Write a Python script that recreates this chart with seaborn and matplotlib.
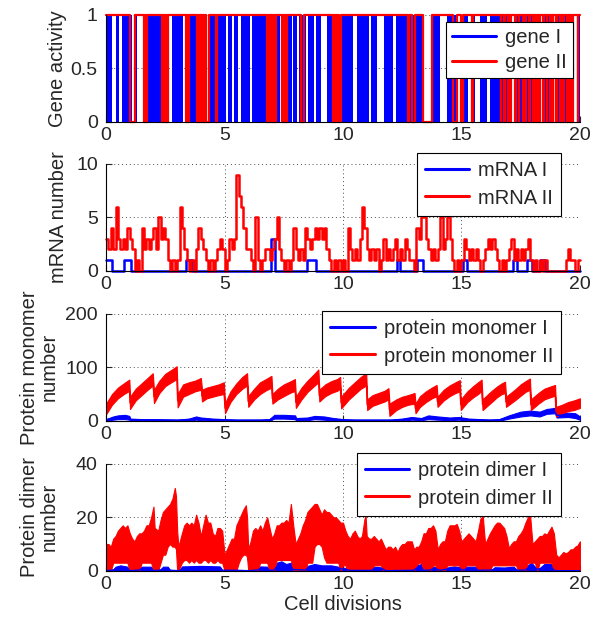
import numpy as np
import pandas as pd
import matplotlib
matplotlib.use("Agg")
import matplotlib.pyplot as plt
import seaborn as sns

sns.set_style("ticks")
plt.rcParams['font.family'] = ['Liberation Sans', 'DejaVu Sans']

# ---- gene activity: white gaps of gene I, switching times of gene II (starts on)
gene1_gaps = [(0.23, 0.41), (0.55, 0.66), (1.11, 1.21), (1.32, 1.56), (2.62, 2.77),
              (3.25, 3.36), (4.21, 4.35), (5.05, 5.13), (5.30, 5.42), (5.58, 5.70),
              (6.08, 6.16), (7.16, 7.22), (7.34, 7.40), (7.86, 7.90), (8.07, 8.14),
              (8.42, 8.52), (8.78, 8.88), (9.06, 9.34), (10.44, 10.58), (11.11, 11.17),
              (11.42, 11.73), (12.12, 12.24), (13.39, 13.74), (14.09, 14.37), (14.80, 14.94),
              (15.29, 15.43), (15.57, 15.78), (16.06, 16.20), (17.12, 17.26), (18.31, 18.45),
              (18.87, 19.00), (19.72, 19.90)]
gene2_switch = [1.03, 1.24,
                1.60, 1.64, 1.68, 1.72,
                2.38, 2.41, 2.45, 2.48, 2.52, 2.55, 2.58, 2.62,
                3.36, 3.40, 3.46, 3.50,
                3.85, 3.88, 3.92, 3.95, 3.99, 4.02, 4.06, 4.09, 4.13, 4.16, 4.21, 4.35,
                4.63, 4.70,
                6.81, 6.84, 6.88, 6.91, 6.95, 6.98, 7.02, 7.05, 7.09, 7.12, 7.14, 7.16,
                7.44, 7.47, 7.51, 7.54, 7.59, 7.65,
                8.21, 8.35,
                9.59, 9.62, 9.66, 9.70, 9.75, 9.79, 9.84, 9.93,
                12.76, 12.80, 12.90, 13.04, 13.39, 13.75,
                14.66, 14.80, 15.00, 15.08, 15.45, 15.50,
                16.66, 16.69, 16.80, 16.83, 16.95, 16.98, 17.05, 17.09,
                17.26, 17.30, 17.42, 17.45, 17.58, 17.61, 17.70, 17.73, 17.86, 17.90,
                18.02, 18.05, 18.16, 18.20, 18.26, 18.31,
                18.45, 18.49, 18.60, 18.63, 18.75, 18.79, 18.85, 18.87,
                19.00, 19.04, 19.16, 19.19, 19.30, 19.34, 19.46, 19.49, 19.60, 19.64,
                19.68, 19.72, 19.90, 19.94]

# ---- mRNA numbers
mrna1_t = [0, 0.27, 0.76, 1.04, 3.36, 3.64, 6.95, 7.12, 8.50, 8.85, 12.27, 12.40, 13.11, 13.39,
           15.08, 15.22, 17.19, 17.33, 17.75, 17.96, 18.31, 18.52, 20]
mrna1_v = [1, 0, 1, 0, 1, 0, 3, 0, 1, 0, 1, 0, 1, 0, 1, 0, 1, 0, 1, 0, 1, 0, 0]
mrna2_v = [3, 2, 4, 2, 6, 3, 2, 3, 2, 4, 3, 2, 0, 1, 0, 4, 2, 3, 2, 3,
           4, 2, 5, 3, 4, 3, 1, 0, 1, 0, 1, 6, 4, 2, 1, 0, 1, 0, 2, 4,
           3, 2, 1, 0, 1, 0, 1, 2, 3, 2, 0, 1, 3, 2, 3, 9, 7, 6, 4, 2,
           2, 1, 0, 5, 1, 0, 1, 2, 2, 1, 2, 3, 5, 2, 1, 0, 1, 0, 1, 4,
           2, 1, 2, 1, 4, 3, 2, 3, 4, 3, 4, 3, 4, 2, 1, 0, 1, 0, 1, 0,
           1, 0, 4, 2, 1, 2, 1, 3, 6, 4, 2, 1, 2, 1, 2, 0, 1, 3, 1, 2,
           1, 2, 3, 1, 2, 1, 3, 2, 1, 1, 0, 4, 3, 5, 6, 3, 2, 1, 2, 1,
           2, 5, 2, 3, 5, 3, 1, 0, 1, 0, 1, 3, 2, 1, 2, 1, 2, 1, 0, 1,
           2, 3, 2, 3, 2, 1, 0, 1, 0, 1, 2, 3, 1, 2, 1, 2, 1, 2, 3, 1,
           0, 1, 0, 1, 0, 1, 0, 0, 0, 0, 0, 0, 0, 0, 1, 2, 1, 1, 0, 1]
mrna2_t = np.round(np.arange(len(mrna2_v)) * 0.1, 1)

# ---- protein monomers (lower / upper edge of the noisy trace)
mono2_t = [0.0, 0.25, 0.5, 0.75, 0.98, 1.01, 1.25, 1.5, 1.75, 1.97, 2.02, 2.25, 2.5, 2.75, 2.98,
           3.02, 3.25, 3.5, 3.75, 4.0, 4.05, 4.25, 4.5, 4.75, 4.97, 5.02, 5.25, 5.5, 5.75, 5.95,
           6.0, 6.25, 6.5, 6.75, 6.98, 7.02, 7.25, 7.5, 7.75, 7.97, 8.01, 8.25, 8.5, 8.75, 8.96,
           9.0, 9.25, 9.5, 9.75, 9.88, 9.92, 10.25, 10.5, 10.75, 10.98, 11.02, 11.25, 11.5, 11.75,
           11.92, 11.96, 12.25, 12.5, 12.75, 13.02, 13.06, 13.25, 13.5, 13.75, 13.95, 13.99,
           14.25, 14.5, 14.75, 14.93, 14.97, 15.25, 15.5, 15.7, 15.85, 15.89, 16.25, 16.5, 16.7,
           16.84, 16.88, 17.25, 17.5, 17.7, 17.89, 17.93, 18.25, 18.5, 18.75, 18.95, 18.99,
           19.25, 19.5, 19.75, 20.0]
mono2_hi = [32, 50, 62, 70, 77, 45, 60, 70, 80, 89, 58, 75, 88, 95, 102,
            50, 68, 72, 75, 80, 58, 62, 65, 68, 72, 33, 55, 70, 82, 89,
            46, 60, 72, 78, 84, 50, 60, 68, 73, 78, 45, 62, 75, 86, 96,
            58, 68, 74, 78, 82, 45, 62, 72, 82, 89, 40, 48, 52, 56,
            61, 32, 40, 45, 48, 52, 32, 46, 55, 62, 67, 45,
            58, 66, 72, 76, 40, 55, 65, 72, 77, 40, 55, 64, 70,
            73, 45, 58, 68, 74, 79, 40, 52, 60, 64, 67, 26,
            30, 35, 38, 42]
mono2_lo = [12, 30, 42, 50, 56, 22, 38, 48, 58, 66, 33, 52, 65, 72, 78,
            25, 45, 50, 55, 58, 36, 42, 45, 48, 50, 14, 35, 50, 60, 66,
            26, 40, 50, 57, 62, 32, 40, 46, 52, 56, 24, 40, 54, 64, 72,
            36, 46, 52, 56, 60, 23, 40, 50, 60, 66, 20, 28, 32, 36,
            40, 9, 20, 26, 30, 32, 14, 26, 35, 42, 46, 26,
            38, 46, 52, 55, 20, 35, 44, 50, 56, 20, 34, 44, 50,
            52, 26, 38, 47, 54, 58, 20, 32, 40, 44, 47, 8,
            14, 18, 20, 24]
mono1_t = [0.0, 0.3, 0.5, 0.8, 0.98, 1.02, 1.5, 2.0, 3.0, 3.5, 3.8, 4.0, 4.5, 5.0, 5.5, 6.0,
           6.5, 6.9, 7.1, 7.5, 7.98, 8.02, 8.5, 8.8, 9.2, 9.6, 10.0, 10.5, 11.0, 11.5, 12.0,
           12.5, 12.9, 13.3, 13.6, 14.0, 14.5, 14.9, 15.3, 15.8, 16.2, 16.6, 17.0, 17.5, 17.9,
           18.3, 18.6, 18.95, 19.02, 19.5, 19.8, 20.0]
mono1_hi = [3, 8, 10, 11, 9, 4, 3, 3, 2, 4, 8, 6, 4, 3, 2, 2,
            2, 3, 11, 11, 10, 5, 6, 9, 8, 5, 3, 2, 2, 2, 2,
            4, 7, 5, 10, 8, 6, 7, 4, 3, 2, 3, 10, 17, 19,
            17, 22, 24, 14, 15, 14, 8]
mono1_lo = [0, 2, 3, 3, 2, 0, 0, 0, 0, 0, 2, 1, 0, 0, 0, 0,
            0, 0, 4, 4, 3, 0, 1, 3, 2, 0, 0, 0, 0, 0, 0,
            0, 2, 1, 3, 2, 1, 2, 0, 0, 0, 0, 4, 8, 10,
            8, 13, 14, 6, 7, 5, 2]

# ---- protein dimers
dimer2_t = [0.0, 0.1, 0.2, 0.3, 0.4, 0.5, 0.6, 0.7, 0.8, 0.9,
            1.0, 1.1, 1.2, 1.3, 1.4, 1.5, 1.6, 1.7, 1.8, 1.9,
            2.0, 2.05, 2.2, 2.3, 2.4, 2.5, 2.6, 2.7, 2.8, 2.9, 2.95,
            3.0, 3.05, 3.2, 3.3, 3.4, 3.5, 3.6, 3.7, 3.8, 3.9,
            4.0, 4.1, 4.2, 4.3, 4.4, 4.5, 4.6, 4.7, 4.8, 4.9,
            5.0, 5.1, 5.2, 5.3, 5.4, 5.5, 5.6, 5.7, 5.8, 5.9, 5.95,
            6.0, 6.1, 6.2, 6.3, 6.4, 6.5, 6.6, 6.7, 6.8, 6.9,
            7.0, 7.1, 7.2, 7.3, 7.4, 7.5, 7.6, 7.7, 7.8, 7.9,
            8.0, 8.1, 8.2, 8.3, 8.4, 8.5, 8.6, 8.7, 8.8, 8.9,
            9.0, 9.1, 9.2, 9.3, 9.4, 9.5, 9.6, 9.7, 9.8, 9.9,
            10.0, 10.1, 10.2, 10.3, 10.4, 10.5, 10.6, 10.7, 10.8, 10.9, 10.95,
            11.0, 11.1, 11.2, 11.3, 11.4, 11.5, 11.6, 11.7, 11.8, 11.9,
            12.0, 12.1, 12.2, 12.3, 12.4, 12.5, 12.6, 12.7, 12.8, 12.9,
            13.0, 13.1, 13.2, 13.3, 13.4, 13.5, 13.6, 13.7, 13.8, 13.9,
            14.0, 14.1, 14.2, 14.3, 14.4, 14.5, 14.6, 14.7, 14.8, 14.9,
            15.0, 15.1, 15.2, 15.3, 15.4, 15.5, 15.6, 15.7, 15.8, 15.9, 15.95,
            16.0, 16.1, 16.2, 16.3, 16.4, 16.5, 16.6, 16.7, 16.8, 16.9,
            17.0, 17.1, 17.2, 17.3, 17.4, 17.5, 17.6, 17.7, 17.8, 17.9, 17.95,
            18.0, 18.1, 18.2, 18.3, 18.4, 18.5, 18.6, 18.7, 18.8, 18.9, 18.95,
            19.0, 19.1, 19.2, 19.3, 19.4, 19.5, 19.6, 19.7, 19.8, 19.9, 20.0]
dimer2_hi = [10, 10, 9, 12, 13, 15, 16, 17, 16, 17,
             14, 12, 11, 13, 14, 14, 15, 17, 17, 20,
             24, 16, 15, 19, 22, 23, 24, 25, 27, 31, 28,
             15, 9, 14, 17, 18, 17, 18, 17, 21, 18,
             13, 17, 21, 18, 18, 14, 13, 16, 16, 15,
             6, 8, 10, 12, 12, 17, 19, 21, 23, 24.5, 20,
             8, 11, 15, 16, 15, 17, 15, 18, 20, 16,
             12, 14, 17, 17, 18, 18, 19, 18, 25, 17,
             10, 12, 14, 17, 19, 22, 23, 24, 25, 25,
             23, 21, 23, 22, 22, 21, 20, 20, 19, 18,
             18, 15, 13, 12, 14, 15, 13, 12, 13, 19, 21,
             13, 12, 12, 13, 12, 11, 12, 10, 8, 9,
             9, 8, 9, 7, 9, 10, 10, 11, 11, 11,
             8, 9, 9, 11, 14, 14, 16, 16, 17, 15,
             8, 10, 11, 11, 15, 17, 17, 17, 17.5, 15,
             11, 12, 13, 14, 13, 12, 11, 15, 19.5, 20.5, 15,
             10, 12, 14, 15.5, 17, 18, 18, 17, 16, 13,
             8.5, 10, 11, 11, 13, 14, 15.5, 18, 20, 20.5, 15,
             10, 11, 12, 13, 13, 14, 13.5, 15, 16.5, 14, 10,
             6, 5, 6, 7, 6.5, 7, 8, 8, 9, 9.5, 11]
dimer2_lo = [0, 0, 0, 3, 3, 3, 3, 3, 3, 3,
             0, 0, 0, 0, 0, 3, 3, 3, 3, 3,
             0, 0, 0, 3, 6, 6, 9, 10, 9, 9, 8,
             0, 0, 3, 4, 4, 3, 4, 3, 4, 3,
             3, 4, 4, 3, 4, 3, 3, 4, 3, 3,
             0, 0, 0, 0, 0, 0, 3, 5, 6, 6, 5,
             0, 0, 0, 0, 0, 3, 3, 3, 3, 0,
             0, 0, 4, 4, 4, 4, 4, 4, 4, 0,
             0, 0, 0, 0, 0, 3, 3, 3, 9, 10,
             10, 9, 5, 3, 3, 3, 3, 3, 3, 0,
             2, 2, 0, 0, 0, 0, 0, 0, 0, 0, 0,
             0, 0, 0, 2, 2, 2, 2, 0, 0, 0,
             0, 0, 0, 0, 0, 0, 0, 0, 0, 0,
             0, 2, 3, 3, 0, 0, 0, 0, 2, 2,
             0, 0, 0, 0, 2, 2, 2, 2, 2, 2,
             0, 0, 2, 2, 2, 2, 2, 0, 0, 0, 0,
             0, 0, 0, 2, 2, 2, 2, 2, 2, 2,
             2, 2, 2, 2, 0, 0, 0, 0, 3, 3, 3,
             3, 3, 0, 3, 3, 3, 3, 3, 3, 0, 0,
             0, 0, 0, 0, 0, 0, 0, 0, 0, 0, 0]
dimer1_t = [0.0, 0.3, 0.4, 0.6, 0.9, 1.0, 1.4, 1.5, 1.9, 2.0, 2.3, 2.4, 2.6, 2.7, 3.1, 3.2,
            4.0, 4.8, 4.9, 5.5, 6.0, 6.4, 6.5, 6.8, 6.9, 7.1, 7.2, 7.4, 7.6, 7.8, 7.9, 8.4,
            8.5, 8.8, 9.1, 9.5, 9.8, 10.1, 10.3, 11.2, 11.3, 11.7, 11.8, 13.0, 13.1, 13.3,
            13.4, 13.7, 13.8, 13.95, 14.1, 14.4, 14.7, 14.95, 15.1, 15.2, 15.6, 15.7, 16.3,
            16.4, 16.8, 17.2, 17.35, 17.7, 17.8, 17.95, 18.1, 18.3, 18.5, 18.8, 18.9, 19.0, 20.0]
dimer1_hi = [0, 0.5, 1.5, 2, 1.5, 0, 0.5, 1.5, 1.5, 0, 0.5, 1.5, 1.5, 0.3, 0, 1.6,
             1.8, 1.6, 0.3, 0.3, 0, 0.5, 1.6, 1.5, 0.3, 0.5, 3.0, 3.5, 2.5, 3.0, 0.8, 0.5,
             1.8, 2.5, 2.0, 2.0, 1.5, 1.0, 0.2, 0.2, 1.5, 1.2, 0, 0.3, 2.0, 2.5,
             0.3, 0.5, 1.6, 1.2, 0.3, 1.2, 1.6, 1.3, 0.3, 1.5, 1.5, 0.3, 0.5,
             1.3, 1.2, 1.5, 0.3, 0.5, 2.0, 3.0, 1.5, 1.0, 2.5, 2.5, 0.5, 0, 0]

BLUE, RED = '#0000ff', '#ff0000'
FS = 14
LFS = 14.5


def band(ax, t, lo, hi, color, label):
    # lower and upper edge at each time -> seaborn min/max band
    df = pd.DataFrame({'t': list(t) + list(t), 'v': list(lo) + list(hi)})
    sns.lineplot(data=df, x='t', y='v', ax=ax, color=color, lw=1.0, label=label,
                 estimator='mean', errorbar=('pi', 100),
                 err_kws={'alpha': 1, 'linewidth': 0.8, 'edgecolor': color})


fig = plt.figure(figsize=(5.96, 6.21), dpi=100)
bottoms = [0.804, 0.564, 0.3225, 0.081]
axes = [fig.add_axes([0.178, b, 0.795, 0.172]) for b in bottoms]

# panel 1: gene activity
ax = axes[0]
g1_t, g1_s = [0.0], [1]
for a, b in gene1_gaps:
    g1_t += [a, b]
    g1_s += [0, 1]
g1_t.append(20.0)
g1_s.append(g1_s[-1])
ax.fill_between(g1_t, g1_s, step='post', color=BLUE, lw=0)
ax.plot([], [], color=BLUE, label='gene I')
g2_t = [0.0] + gene2_switch + [20.0]
g2_s = [(i + 1) % 2 for i in range(len(g2_t) - 1)]
g2_s.append(g2_s[-1])
sns.lineplot(x=g2_t, y=g2_s, ax=ax, color=RED, lw=1.6, drawstyle='steps-post',
             estimator=None, sort=False, label='gene II', clip_on=False)

# panel 2: mRNA
ax = axes[1]
sns.lineplot(x=mrna1_t, y=mrna1_v, ax=ax, color=BLUE, lw=1.8, drawstyle='steps-post',
             estimator=None, label='mRNA I', clip_on=False)
sns.lineplot(x=list(mrna2_t) + [20.0], y=mrna2_v + [mrna2_v[-1]], ax=ax, color=RED, lw=1.8,
             drawstyle='steps-post', estimator=None, label='mRNA II', clip_on=False)

# panel 3: monomers
ax = axes[2]
band(ax, mono1_t, mono1_lo, mono1_hi, BLUE, 'protein monomer I')
band(ax, mono2_t, mono2_lo, mono2_hi, RED, 'protein monomer II')

# panel 4: dimers
ax = axes[3]
band(ax, dimer1_t, [0] * len(dimer1_t), dimer1_hi, BLUE, 'protein dimer I')
band(ax, dimer2_t, dimer2_lo, dimer2_hi, RED, 'protein dimer II')

ylims = [(0, 1), (0, 10), (0, 200), (0, 40)]
yticks = [[0, 0.5, 1], [0, 5, 10], [0, 100, 200], [0, 20, 40]]
yticklabels = [['0', '0.5', '1'], ['0', '5', '10'], ['0', '100', '200'], ['0', '20', '40']]
ylabels = ['Gene activity', 'mRNA number', 'Protein monomer\nnumber', 'Protein dimer\nnumber']
label_x = [-0.082, -0.080, -0.101, -0.101]
legend_anchor = [(0.9614, 0.9646), (0.9413, 0.7536), (0.9413, 0.4992), (0.9413, 0.2705)]
legend_spacing = [0.28, 0.42, 0.42, 0.42]
legend_pad = [0.3, 0.4, 0.4, 0.4]

for i, ax in enumerate(axes):
    ax.set_xlim(0, 20)
    ax.set_ylim(*ylims[i])
    ax.set_xticks([0, 5, 10, 15, 20])
    ax.set_xticklabels(['0', '5', '10', '15', '20'], fontsize=FS)
    ax.set_yticks(yticks[i])
    ax.set_yticklabels(yticklabels[i], fontsize=FS)
    ax.tick_params(direction='in', length=4, width=0.8, top=False, right=False)
    ax.tick_params(axis='x', pad=3.5)
    ax.tick_params(axis='y', pad=6)
    ax.grid(True, linestyle=(0, (1, 3)), color='0.3', lw=0.7)
    ax.set_axisbelow(True)
    for s in ['top', 'right']:
        ax.spines[s].set_visible(False)
    for s in ['left', 'bottom']:
        ax.spines[s].set_color('black')
        ax.spines[s].set_linewidth(0.8)
    ax.set_xlabel('')
    ax.set_ylabel(ylabels[i], fontsize=LFS, linespacing=1.0)
    ax.yaxis.set_label_coords(label_x[i], 0.5)
    leg = ax.legend(loc='upper right', bbox_to_anchor=legend_anchor[i],
                    bbox_transform=fig.transFigure, borderaxespad=0, fontsize=LFS,
                    frameon=True, fancybox=False, framealpha=1, edgecolor='black',
                    handlelength=2.2, handletextpad=0.45, labelspacing=legend_spacing[i],
                    borderpad=legend_pad[i])
    leg.get_frame().set_linewidth(0.8)
    for h in leg.get_lines():
        h.set_linewidth(2.2)

axes[3].set_xlabel('Cell divisions', fontsize=LFS, labelpad=2)

fig.savefig('out.png', dpi=100)
